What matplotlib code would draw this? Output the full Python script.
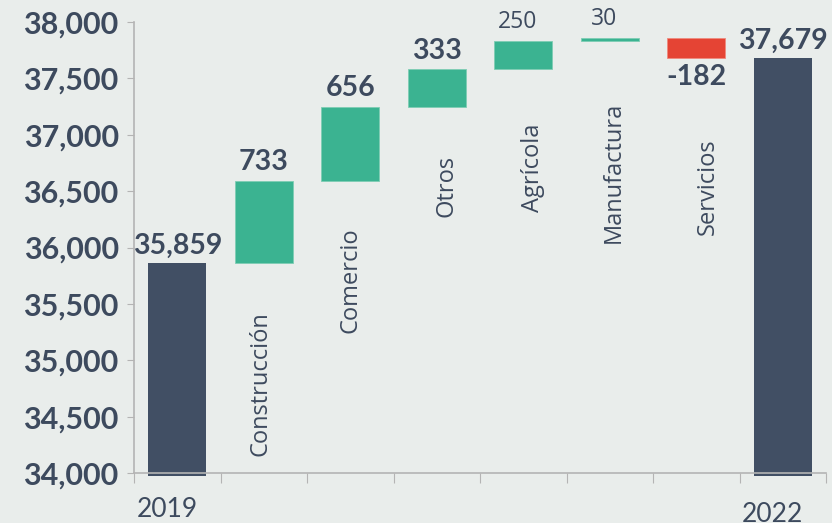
import matplotlib.pyplot as plt
import numpy as np

BG = "#e9edeb"
INK = "#3d4a5e"
DARK = "#414f64"
GREEN = "#3bb391"
RED = "#e54434"
AXIS = "#b4b4b4"

categories = ["2019", "Construcción", "Comercio", "Otros", "Agrícola", "Manufactura", "Servicios", "2022"]
start_value = 35859
changes = [733, 656, 333, 250, 30, -182]
end_value = 37679
yticks = [34000, 34500, 35000, 35500, 36000, 36500, 37000, 37500, 38000]

# label tweaks (pixels): x shift, gap below bar
label_dx = [-3, 0, 10, 10, 4, 12]
label_gap = [48, 47, 48, 54, 61, 80]
bold_values = [True, True, True, False, False, True]

fig = plt.figure(figsize=(8.32, 5.23), dpi=100)
fig.patch.set_facecolor(BG)
ax = fig.add_axes([134 / 832, 50 / 523, 692 / 832, 451 / 523])
ax.set_facecolor(BG)

x = np.arange(len(categories)) + 0.5
w = 0.67
base = 33970

# totals
for xi, val in [(x[0], start_value), (x[-1], end_value)]:
    ax.bar(xi, val - base, bottom=base, width=w, color=DARK, clip_on=False, zorder=1)
    ax.annotate(f"{val:,}", (xi, val), xytext=(0, 3), textcoords="offset points",
                ha="center", va="bottom", fontsize=20.5, fontweight="bold", color=INK,
                family="Lato")

running = start_value
for i, ch in enumerate(changes):
    xi = x[i + 1]
    lo, hi = min(running, running + ch), max(running, running + ch)
    color = GREEN if ch > 0 else RED
    ax.bar(xi, hi - lo, bottom=lo, width=w, color=color, edgecolor="#7fcdb4" if ch > 0 else "#ef8a7e",
           linewidth=0.6, zorder=2)
    txt = f"{ch:,}"
    if ch > 0:
        ax.annotate(txt, (xi + (-0.07 if not bold_values[i] else 0), hi), xytext=(0, 4 if bold_values[i] else 5),
                    textcoords="offset points", ha="center", va="bottom",
                    fontsize=20.5 if bold_values[i] else 16.5,
                    fontweight="bold" if bold_values[i] else "normal", color=INK,
                    family="Lato" if bold_values[i] else "Open Sans")
    else:
        ax.annotate(txt, (xi, lo), xytext=(0, -4), textcoords="offset points",
                    ha="center", va="top", fontsize=20.5, fontweight="bold", color=INK, family="Lato")
    ax.annotate(categories[i + 1], (xi, lo), xytext=(label_dx[i] * 0.72, -label_gap[i] * 0.72),
                textcoords="offset points", ha="center", va="top", rotation=90,
                fontsize=17, color=INK, family="Open Sans")
    running += ch

ax.set_xlim(0, len(categories))
ax.set_ylim(yticks[0], yticks[-1])
ax.set_yticks(yticks)
ax.set_yticklabels([f"{t:,}" for t in yticks], fontsize=22, fontweight="bold", color=INK, family="Lato")
ax.set_xticks(np.arange(len(categories) + 1))
ax.set_xticklabels([])
ax.tick_params(axis="y", length=5, color=AXIS, pad=6)
ax.tick_params(axis="x", length=7, color=AXIS, direction="out")
for s in ["top", "right"]:
    ax.spines[s].set_visible(False)
for s in ["left", "bottom"]:
    ax.spines[s].set_color(AXIS)
    ax.spines[s].set_linewidth(1.2)

ax.annotate(categories[0], (x[0], yticks[0]), xytext=(-7.2, -17), textcoords="offset points",
            ha="center", va="top", fontsize=19, color=INK, family="Lato")
ax.annotate(categories[-1], (x[-1], yticks[0]), xytext=(-7.2, -21), textcoords="offset points",
            ha="center", va="top", fontsize=19, color=INK, family="Lato")

fig.savefig("out.png", dpi=100, facecolor=BG)
